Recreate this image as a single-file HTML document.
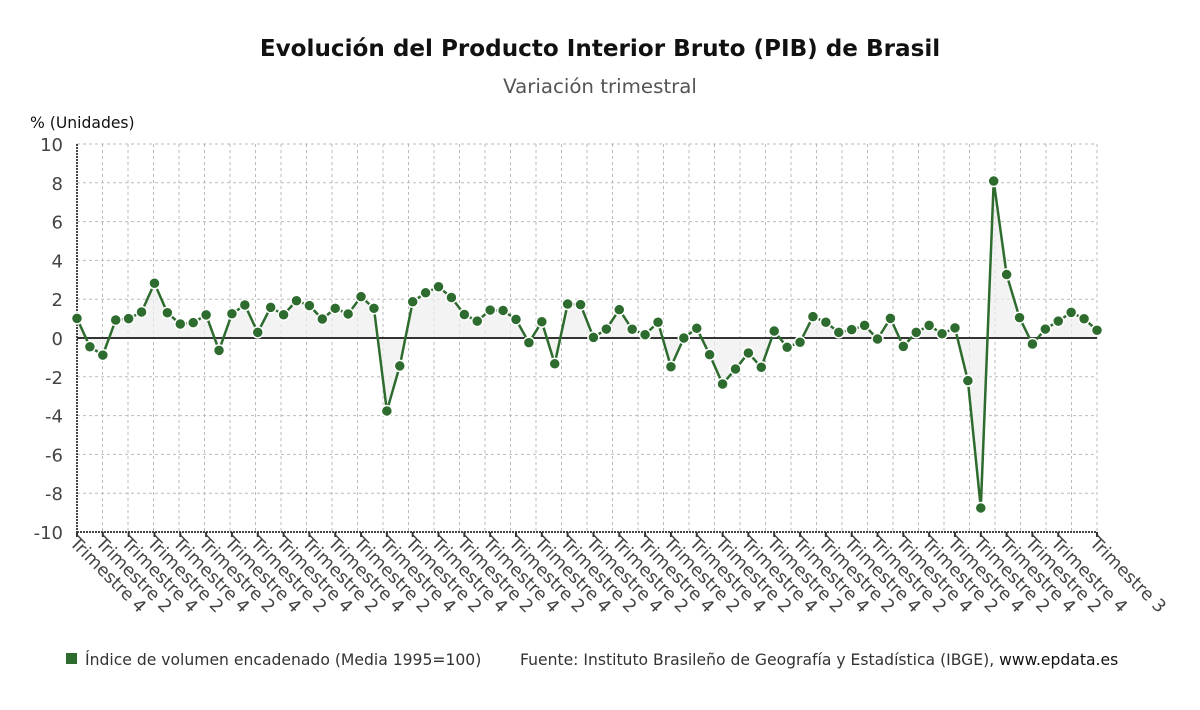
<!DOCTYPE html>
<html><head><meta charset="utf-8">
<style>
body{margin:0;background:#fff;font-family:"Liberation Sans",sans-serif;}
svg text{font-family:"DejaVu Sans","Liberation Sans",sans-serif;}
</style></head>
<body>
<svg width="1200" height="705" viewBox="0 0 1200 705" xmlns="http://www.w3.org/2000/svg">
<text x="600" y="56" text-anchor="middle" font-size="23.1" font-weight="bold" fill="#111">Evolución del Producto Interior Bruto (PIB) de Brasil</text>
<text x="600" y="93" text-anchor="middle" font-size="19.8" fill="#555">Variación trimestral</text>
<text x="30" y="128" font-size="15.6" fill="#111">% (Unidades)</text>
<g id="grid"></g>
<path id="area" fill="#eeeeee" fill-opacity="0.7"></path>
<g id="axes"></g>
<path id="line" fill="none" stroke="#2e6b2e" stroke-width="2.5"></path>
<g id="points"></g>
<g id="xlabels"></g>
<g id="ylabels"></g>
<rect x="66" y="653" width="11" height="11" fill="#2e6b2e"/>
<text x="85" y="665" font-size="15.6" fill="#333">Índice de volumen encadenado (Media 1995=100)</text>
<text x="520" y="665" font-size="15.6" fill="#333">Fuente: Instituto Brasileño de Geografía y Estadística (IBGE), <tspan fill="#111">www.epdata.es</tspan></text>
</svg>
<script>
const values=[1.01,-0.45,-0.88,0.93,1.0,1.34,2.82,1.3,0.72,0.79,1.19,-0.64,1.25,1.7,0.29,1.58,1.2,1.92,1.67,0.98,1.53,1.24,2.13,1.53,-3.76,-1.44,
1.87,2.33,2.64,2.09,1.21,0.87,1.44,1.42,0.96,-0.24,0.84,-1.33,1.75,1.72,0.03,0.46,1.46,0.45,0.17,0.81,-1.48,0.0,0.5,-0.86,-2.37,-1.6,-0.77,-1.51,
0.36,-0.48,-0.22,1.1,0.81,0.29,0.43,0.65,-0.05,1.01,-0.43,0.29,0.65,0.22,0.52,-2.2,-8.76,8.09,3.27,1.05,-0.31,0.46,0.87,1.32,0.99,0.4];
const quarters=[4,1,2,3];
const yTicks=[10,8,6,4,2,0,-2,-4,-6,-8,-10];
const NS="http://www.w3.org/2000/svg";
const X0=77,X1=1097,Y0=144,Y1=532;
const n=values.length;
const xs=i=>X0+(X1-X0)*i/(n-1);
const ys=v=>Y0+(10-v)*(Y1-Y0)/20;
function mk(tag,attrs,parent){const e=document.createElementNS(NS,tag);for(const k in attrs)e.setAttribute(k,attrs[k]);document.getElementById(parent).appendChild(e);return e;}
for(const t of yTicks){
  if(t!==0&&t!==-10){const g=mk('line',{x1:X0,x2:X1,y1:ys(t),y2:ys(t),stroke:'#bbb','stroke-dasharray':'3,3'},'grid');
  
  }
  const l=mk('text',{x:63,y:ys(t)+7,'text-anchor':'end','font-size':18,fill:'#444'},'ylabels');l.textContent=t;
  
  
}
for(let k=1;k<=40;k++){const x=X0+(X1-X0)*k/40;
  const g=mk('line',{x1:x,x2:x,y1:Y0,y2:Y1,stroke:'#bbb','stroke-dasharray':'3,3'},'grid');
  
  }
let a=mk('line',{x1:X0,x2:X0,y1:Y0,y2:Y1,stroke:'#444','stroke-width':2,'stroke-dasharray':'2,1'},'axes');


a=mk('line',{x1:X0,x2:X1,y1:Y1,y2:Y1,stroke:'#444','stroke-width':2,'stroke-dasharray':'2,1'},'axes');


a=mk('line',{x1:X0,x2:X1,y1:ys(0),y2:ys(0),stroke:'#333','stroke-width':2},'axes');


let d='',da='M'+xs(0)+','+ys(0);
values.forEach((v,i)=>{d+=(i?'L':'M')+xs(i)+','+ys(v);da+='L'+xs(i)+','+ys(v);});
da+='L'+xs(n-1)+','+ys(0)+'Z';
document.getElementById('line').setAttribute('d',d);
document.getElementById('area').setAttribute('d',da);
values.forEach((v,i)=>{const c=mk('circle',{cx:xs(i),cy:ys(v),r:5.5,fill:'#2e6b2e',stroke:'#fff','stroke-width':1.5},'points');
  
  });
for(let i=0;i<n;i++){
  if(!((i%2===0&&i<=76)||i===n-1))continue;
  const x=xs(i);
  const t=mk('line',{x1:x,x2:x,y1:Y1,y2:Y1+5,stroke:'#333','stroke-width':2},'axes');
  
  
  const l=mk('text',{x:x-8,y:Y1+12,'font-size':17.6,fill:'#444',transform:`rotate(45 ${x-8} ${Y1+12})`},'xlabels');
  l.textContent='Trimestre '+quarters[i%4];
  
  
}
</script>
</body></html>
